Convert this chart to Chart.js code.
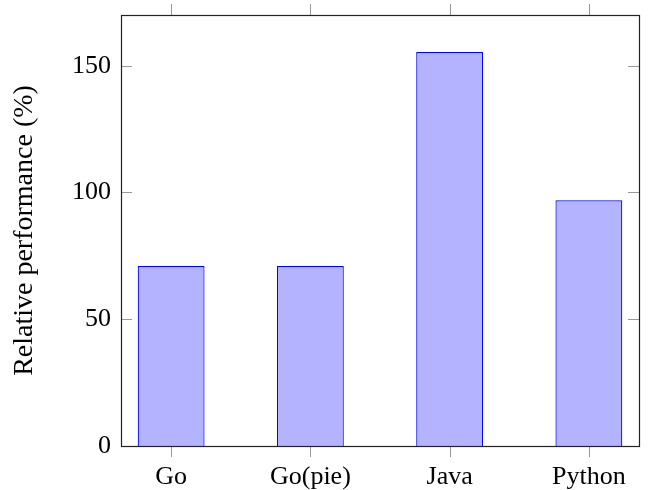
<!DOCTYPE html>
<html>
<head>
<meta charset="utf-8">
<script src="https://cdn.jsdelivr.net/npm/chart.js@4/dist/chart.umd.min.js"></script>
<style>
  html, body { margin: 0; padding: 0; background: #fff; }
  #wrap { width: 652px; height: 490px; }
</style>
</head>
<body>
<div id="wrap"><canvas id="perfChart" width="652" height="490"></canvas></div>
<script>
// Relative performance bar chart (pgfplots look)
const categories = ['Go', 'Go(pie)', 'Java', 'Python'];
const performance = [71, 71, 155.4, 96.9];
const yTicks = [0, 50, 100, 150];

const serif = '"Liberation Serif", "DejaVu Serif", serif';

// frame + inward/outward tick marks like pgfplots
const framePlugin = {
  id: 'frame',
  afterDraw(chart) {
    const { ctx, chartArea: a, scales } = chart;
    ctx.save();
    ctx.strokeStyle = '#999';
    ctx.lineWidth = 1;
    ctx.beginPath();
    categories.forEach((c, i) => {
      const x = Math.round(scales.x.getPixelForValue(i)) + 0.5;
      ctx.moveTo(x, a.bottom); ctx.lineTo(x, a.bottom + 11);
      ctx.moveTo(x, a.top); ctx.lineTo(x, a.top - 11);
    });
    yTicks.forEach(v => {
      const y = Math.round(scales.y.getPixelForValue(v)) + 0.5;
      ctx.moveTo(a.left, y); ctx.lineTo(a.left + 11, y);
      ctx.moveTo(a.right, y); ctx.lineTo(a.right - 11, y);
    });
    ctx.stroke();
    ctx.strokeStyle = '#222';
    ctx.lineWidth = 1.2;
    ctx.strokeRect(Math.round(a.left) + 0.5, Math.round(a.top) + 0.5,
      Math.round(a.right - a.left), Math.round(a.bottom - a.top));
    ctx.restore();
  }
};

new Chart(document.getElementById('perfChart'), {
  type: 'bar',
  data: {
    datasets: [{
      data: performance.map((v, i) => ({ x: i, y: v })),
      backgroundColor: '#b3b3ff',
      borderColor: '#0000ff',
      borderWidth: 1.2,
      barPercentage: 0.48,
      categoryPercentage: 1,
    }]
  },
  options: {
    responsive: false,
    animation: false,
    layout: { padding: { top: 15, right: 13, left: 0, bottom: 0 } },
    plugins: {
      legend: { display: false },
      tooltip: { enabled: false }
    },
    scales: {
      x: {
        type: 'linear',
        offset: false,
        min: -0.36,
        max: 3.36,
        afterFit(scale) {
          scale.height = 44;
          scale.paddingLeft = 0;
          scale.paddingRight = 0;
        },
        afterBuildTicks(scale) {
          scale.ticks = categories.map((c, i) => ({ value: i }));
        },
        grid: { display: false, drawTicks: false },
        border: { display: false },
        ticks: {
          padding: 16,
          color: '#000',
          font: { family: serif, size: 26 },
          maxRotation: 0,
          callback: v => categories[v]
        }
      },
      y: {
        min: 0,
        max: 170,
        afterFit(scale) {
          scale.width = 121;
          scale.paddingTop = 0;
          scale.paddingBottom = 0;
        },
        afterBuildTicks(scale) {
          scale.ticks = yTicks.map(v => ({ value: v }));
        },
        grid: { display: false, drawTicks: false },
        border: { display: false },
        ticks: {
          padding: 10,
          color: '#000',
          font: { family: serif, size: 26 }
        },
        title: {
          display: true,
          text: 'Relative performance (%)',
          color: '#000',
          font: { family: serif, size: 28 },
          padding: { top: 8, bottom: 0 }
        }
      }
    }
  },
  plugins: [framePlugin]
});
</script>
</body>
</html>
